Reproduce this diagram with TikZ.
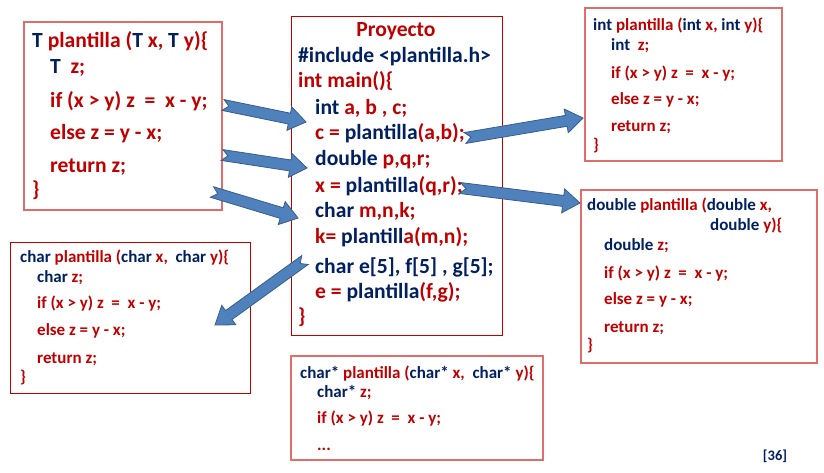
\documentclass[tikz,border=0pt]{standalone}
\usepackage{fontspec}
\setmainfont{Carlito}
\usepackage{tikz}
\usetikzlibrary{calc}
\definecolor{kwblue}{HTML}{002060}
\definecolor{codered}{HTML}{C00000}
\definecolor{boxred}{HTML}{C00000}
\definecolor{boxpink}{HTML}{E06C6C}
\definecolor{arrowfill}{HTML}{4F81BD}
\definecolor{arrowline}{HTML}{385D8A}
\newcommand{\kw}[1]{\textcolor{kwblue}{#1}}
% notched block arrow from #1 (tail) to #2 (tip)
\newcommand{\notcharrow}[2]{%
  \filldraw[fill=arrowfill, draw=arrowline, line width=0.8pt, line join=miter]
    ($(#1)!5.5pt!90:(#2)$) -- ($(#2)!17pt!(#1)!5.5pt!-90:(#1)$)
    -- ($(#2)!17pt!(#1)!12pt!-90:(#1)$) -- (#2)
    -- ($(#2)!17pt!(#1)!12pt!90:(#1)$) -- ($(#2)!17pt!(#1)!5.5pt!90:(#1)$)
    -- ($(#1)!5.5pt!-90:(#2)$) -- ($(#1)!6pt!(#2)$) -- cycle;}
\tikzset{
  codebox/.style={draw=boxpink, line width=1.2pt, anchor=north west, inner sep=0pt, outer sep=0pt},
  code/.style={anchor=base west, inner sep=0pt, text=codered, font=\fontsize{21.6}{25}\selectfont\bfseries},
  smallcode/.style={code, font=\fontsize{17}{20}\selectfont\bfseries}
}

\begin{document}
\begin{tikzpicture}[x=1pt, y=-1pt]
  \fill[white] (0,0) rectangle (824,472);
  \useasboundingbox (0,0) rectangle (824,472);

  % generic template
  \node[codebox, minimum width=198pt, minimum height=188pt] (tpl) at (24,22) {};
  \foreach \xx/\yy/\txt [count=\i] in {
      32/47/{\kw{T} plantilla (\kw{T} x, \kw{T} y)\{},
      50/73/{\kw{T}\ \ z;},
      50/107/{if (x > y) z\ \ =\ \ x - y;},
      50/139/{else z = y - x;},
      50/172/{return z;},
      32/196/{\}}}
    \node[code] (tpl-\i) at (\xx,\yy) {\txt};

  % project
  \node[codebox, draw=boxred, line width=1pt, minimum width=211pt, minimum height=319pt] (proj) at (291,16) {};
  \node[code, anchor=base] (proj-title) at (396,36) {Proyecto};
  \foreach \xx/\yy/\txt [count=\i] in {
      298/62/{\kw{\#include <plantilla.h>}},
      298/87/{int main()\{},
      315/114/{\kw{int} a, b , c;},
      315/139/{c = \kw{plantilla}(a,b);},
      315/165/{\kw{double} p,q,r;},
      315/192/{x = \kw{plantilla}(q,r);},
      315/217/{\kw{char} m,n,k;},
      315/243/{k= \kw{plantill}a(m,n);},
      315/273/{\kw{char e[5], f[5] , g[5];}},
      315/298/{e = \kw{plantilla}(f,g);},
      298/323/{\}}}
    \node[code] (proj-\i) at (\xx,\yy) {\txt};

  % int version
  \node[codebox, minimum width=197pt, minimum height=153pt] (tint) at (585,8) {};
  \foreach \xx/\yy/\txt [count=\i] in {
      593/30/{\kw{int} plantilla (\kw{int} x, \kw{int} y)\{},
      611/50/{\kw{int}\ \ z;},
      611/78/{if (x > y) z\ \ =\ \ x - y;},
      611/104/{else z = y - x;},
      611/131/{return z;},
      593/150/{\}}}
    \node[smallcode] (tint-\i) at (\xx,\yy) {\txt};

  % double version
  \node[codebox, minimum width=236pt, minimum height=173pt] (tdbl) at (581,190) {};
  \foreach \xx/\yy/\txt [count=\i] in {
      587/210/{\kw{double} plantilla (\kw{double} x,},
      710/230/{\kw{double} y)\{},
      604/250/{\kw{double} z;},
      604/278/{if (x > y) z\ \ =\ \ x - y;},
      604/304/{else z = y - x;},
      604/332/{return z;},
      587/350/{\}}}
    \node[smallcode] (tdbl-\i) at (\xx,\yy) {\txt};

  % char version
  \node[codebox, draw=boxred, line width=1pt, minimum width=240pt, minimum height=151pt] (tchr) at (10,242) {};
  \foreach \xx/\yy/\txt [count=\i] in {
      20/262/{\kw{char} plantilla (\kw{char} x,\ \ \kw{char} y)\{},
      37/282/{\kw{char} z;},
      37/308/{if (x > y) z\ \ =\ \ x - y;},
      37/335/{else z = y - x;},
      37/363/{return z;},
      20/382/{\}}}
    \node[smallcode] (tchr-\i) at (\xx,\yy) {\txt};

  % char* version
  \node[codebox, minimum width=252pt, minimum height=104pt] (tptr) at (291,356) {};
  \foreach \xx/\yy/\txt [count=\i] in {
      300/378/{\kw{char*} plantilla (\kw{char*} x,\ \ \kw{char*} y)\{},
      317/397/{\kw{char*} z;},
      317/423/{if (x > y) z\ \ =\ \ x - y;},
      317/450/{...}}
    \node[smallcode] (tptr-\i) at (\xx,\yy) {\txt};

  \node[code, anchor=base, text=kwblue, font=\fontsize{14.5}{17}\selectfont\bfseries] (pagenum) at (775,460) {[36]};

  % arrows
  \coordinate (a1s) at (223,105); \coordinate (a1e) at (306,122);
  \coordinate (a2s) at (222,155); \coordinate (a2e) at (307,168);
  \coordinate (a3s) at (212,192); \coordinate (a3e) at (298,218);
  \coordinate (a4s) at (305,260); \coordinate (a4e) at (215,325);
  \coordinate (a5s) at (465,138); \coordinate (a5e) at (583,118);
  \coordinate (a6s) at (460,188); \coordinate (a6e) at (580,203);
  \notcharrow{a1s}{a1e}
  \notcharrow{a2s}{a2e}
  \notcharrow{a3s}{a3e}
  \notcharrow{a4s}{a4e}
  \notcharrow{a5s}{a5e}
  \notcharrow{a6s}{a6e}
\end{tikzpicture}
\end{document}
